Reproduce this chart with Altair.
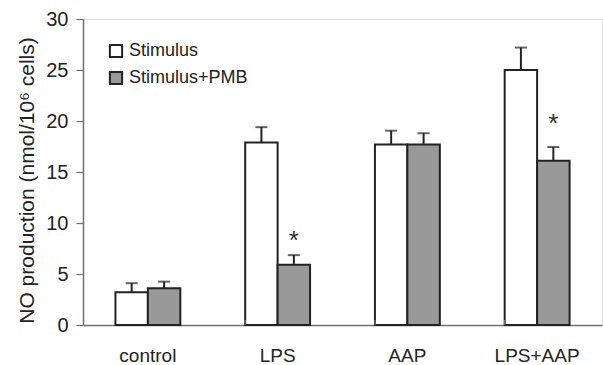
import altair as alt
import pandas as pd

categories = ["control", "LPS", "AAP", "LPS+AAP"]
groups = ["Stimulus", "Stimulus+PMB"]
stimulus = [3.2, 17.9, 17.7, 25.0]
stimulus_err = [0.9, 1.5, 1.35, 2.2]
pmb = [3.6, 5.9, 17.7, 16.1]
pmb_err = [0.65, 0.95, 1.1, 1.35]
star_cats = ["LPS", "LPS+AAP"]
star_vals = [8.8, 20.3]
boundary_cats = ["LPS", "AAP", "LPS+AAP"]

rows = []
for i, c in enumerate(categories):
    rows.append({"cat": c, "grp": groups[0], "val": stimulus[i], "top": stimulus[i] + stimulus_err[i]})
    rows.append({"cat": c, "grp": groups[1], "val": pmb[i], "top": pmb[i] + pmb_err[i]})
df = pd.DataFrame(rows)
stars = pd.DataFrame({"cat": star_cats, "grp": [groups[1]] * len(star_cats), "y": star_vals, "t": ["*"] * len(star_cats)})
bounds = pd.DataFrame({"cat": boundary_cats, "y0": [0] * 3, "y1": [0.5] * 3})

FONT = "Liberation Sans"
TXT = "#222222"

xscale = alt.Scale(domain=categories, paddingInner=0.5, paddingOuter=0.25)
yscale = alt.Scale(domain=[0, 30], nice=False)
off = alt.XOffset("grp:N", scale=alt.Scale(domain=groups, paddingInner=0, paddingOuter=0))

x_enc = alt.X("cat:N", scale=xscale, sort=categories,
              axis=alt.Axis(title=None, labelAngle=0, ticks=False, labelFontSize=19,
                            labelPadding=21, labelColor=TXT, labelFont=FONT,
                            domainColor="#707070", domainWidth=1.5))
y_enc = alt.Y("val:Q", scale=yscale,
              axis=alt.Axis(title="NO production (nmol/10⁶ cells)", values=[0, 5, 10, 15, 20, 25, 30],
                            grid=False, tickSize=7, tickColor="#707070", tickWidth=1.2,
                            labelFontSize=20, labelFont=FONT, labelColor=TXT, labelPadding=8,
                            titleFontSize=21, titleFont=FONT, titleColor=TXT, titleFontWeight="normal",
                            titlePadding=8, titleY=161, titleAnchor="middle",
                            domainColor="#707070", domainWidth=1.5))

bars = alt.Chart(df).mark_bar(stroke="#222222", strokeWidth=2).encode(
    x=x_enc,
    xOffset=off,
    y=y_enc,
    fill=alt.Fill("grp:N", scale=alt.Scale(domain=groups, range=["#ffffff", "#999999"]),
                  legend=alt.Legend(title=None, orient="none", legendX=24, legendY=23,
                                    symbolType="square", symbolSize=150, symbolStrokeColor="#222222",
                                    symbolStrokeWidth=2, labelFontSize=18, labelFont=FONT,
                                    labelColor=TXT, labelOffset=4, rowPadding=5,
                                    symbolOpacity=1)),
)

err = alt.Chart(df).mark_rule(color="#222222", strokeWidth=2).encode(
    x=alt.X("cat:N", scale=xscale, sort=categories),
    xOffset=off,
    y=alt.Y("val:Q", scale=yscale),
    y2="top:Q",
)
caps = alt.Chart(df).mark_tick(color="#222222", thickness=2, size=12, orient="horizontal").encode(
    x=alt.X("cat:N", scale=xscale, sort=categories),
    xOffset=off,
    y=alt.Y("top:Q", scale=yscale),
)
star = alt.Chart(stars).mark_text(fontSize=26, font=FONT, color="#333333", baseline="middle", dy=6).encode(
    x=alt.X("cat:N", scale=xscale, sort=categories),
    xOffset=off,
    y=alt.Y("y:Q", scale=yscale),
    text="t:N",
)
ticks = alt.Chart(bounds).mark_rule(color="#707070", strokeWidth=1.2).encode(
    x=alt.X("cat:N", scale=xscale, sort=categories, bandPosition=0),
    y=alt.Y("y0:Q", scale=yscale),
    y2="y1:Q",
)

chart = alt.layer(bars, err, caps, star, ticks).properties(
    width=519, height=306,
    autosize=alt.AutoSizeParams(type="none"),
    padding={"left": 83, "top": 19, "right": 1, "bottom": 40},
).configure_view(stroke="#8a8a8a", strokeWidth=1.5).configure(background="white")

chart.save("out.html", embed_options={"renderer": "svg", "actions": False})
